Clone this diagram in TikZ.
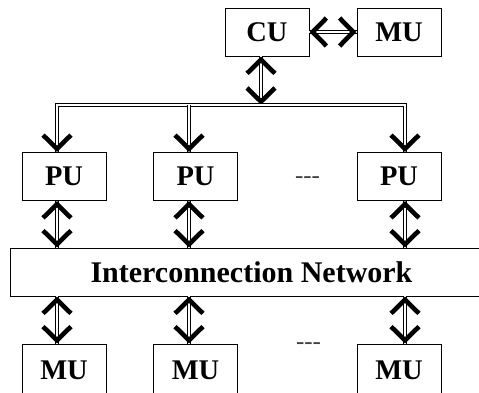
\documentclass[tikz,border=0pt]{standalone}
\usepackage{fontspec}
\setmainfont{Liberation Serif}
\usetikzlibrary{decorations.markings}
\tikzset{
  box/.style={draw, line width=0.9pt, minimum width=84pt, minimum height=48pt, inner sep=0pt,
    font=\fontsize{28.5}{30}\selectfont\bfseries},
  netbox/.style={draw, line width=0.9pt, minimum width=483pt, minimum height=48pt, inner sep=0pt,
    font=\fontsize{30}{32}\selectfont\bfseries},
  dotstext/.style={anchor=base, inner sep=0pt, text=black!75, font=\fontsize{25}{27}\selectfont},
  shaft/.style={draw, line width=0.7pt, double=white, double distance=2.1pt},
  vstyle/.style={draw=black, line width=4.6pt, line cap=butt, line join=miter},
  vend/.code={\draw[vstyle] (-17pt,14pt) -- (-3.3pt,0pt) -- (-17pt,-14pt);},
  vstart/.code={\draw[vstyle] (17pt,14pt) -- (3.3pt,0pt) -- (17pt,-14pt);},
  endhead/.style={decorate, decoration={markings,
    mark=at position 0.9999 with {\tikzset{vend}}}},
  bothheads/.style={decorate, decoration={markings,
    mark=at position 0.0001 with {\tikzset{vstart}},
    mark=at position 0.9999 with {\tikzset{vend}}}},
}
\begin{document}
\begin{tikzpicture}[x=1pt,y=-1pt]
\path[use as bounding box] (0,0) rectangle (479,392);
\clip (0,0) rectangle (479,392);

% nodes
\node[box] (cu)  at (267,32) {CU};
\node[box] (mut) at (399,32) {MU};
\node[box] (pu1) at (64,176.5) {PU};
\node[box] (pu2) at (195.5,176.5) {PU};
\node[box] (pu3) at (399,176.5) {PU};
\node[netbox] (net) at (251.5,272) {Interconnection Network};
\node[box, minimum height=52pt] (mu1) at (64,370) {};
\node[box, minimum height=52pt] (mu2) at (195.5,370) {};
\node[box, minimum height=52pt] (mu3) at (399,370) {};
\node[font=\fontsize{28.5}{30}\selectfont\bfseries, inner sep=0pt] (mu1t) at (64,370) {MU};
\node[font=\fontsize{28.5}{30}\selectfont\bfseries, inner sep=0pt] (mu2t) at (195.5,370) {MU};
\node[font=\fontsize{28.5}{30}\selectfont\bfseries, inner sep=0pt] (mu3t) at (399,370) {MU};
\node[dotstext] (dots1) at (307.5,183) {-{}-{}-};
\node[dotstext] (dots2) at (308.5,349) {-{}-{}-};

% bus coordinates
\coordinate (bl) at (57,105);
\coordinate (bm) at (189,105);
\coordinate (br) at (405,105);

% CU <-> MU
\draw[shaft] (cu.east) -- (mut.west);
\path[bothheads] (cu.east) -- (mut.west);

% CU <-> bus
\draw[shaft] ([xshift=-6pt]cu.south) -- ([xshift=-6pt]cu.south |- bl);
\path[bothheads] ([xshift=-6pt]cu.south) -- ([xshift=-6pt]cu.south |- bl);

% bus to PUs
\draw[shaft] (bl |- pu1.north) -- (bl) -- (br) -- (br |- pu3.north);
\draw[shaft] (bm) -- (bm |- pu2.north);
\path[endhead] (bl) -- (bl |- pu1.north);
\path[endhead] (bm) -- (bm |- pu2.north);
\path[endhead] (br) -- (br |- pu3.north);

% PUs <-> network
\foreach \p/\c in {pu1/bl, pu2/bm, pu3/br}{
  \draw[shaft] (\p.south -| \c) -- (net.north -| \c);
  \path[bothheads] (\p.south -| \c) -- (net.north -| \c);
}
% network <-> MUs
\foreach \m/\c in {mu1/bl, mu2/bm, mu3/br}{
  \draw[shaft] (net.south -| \c) -- (\m.north -| \c);
  \path[bothheads] (net.south -| \c) -- (\m.north -| \c);
}
\end{tikzpicture}
\end{document}
